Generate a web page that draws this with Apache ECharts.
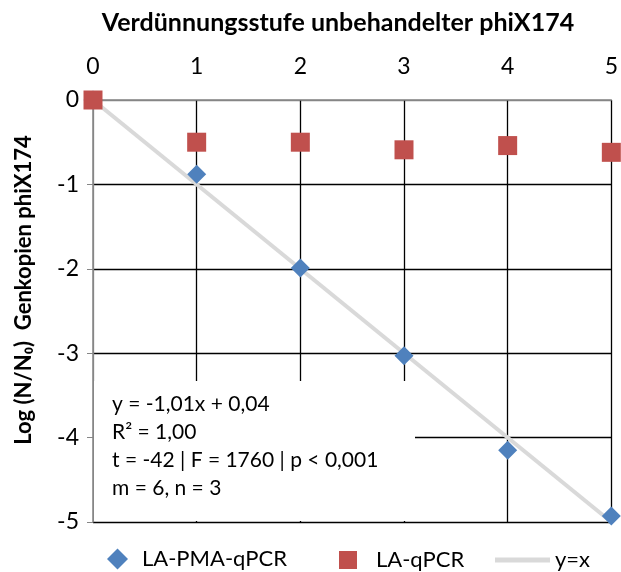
<!DOCTYPE html>
<html><head><meta charset="utf-8">
<script src="https://cdn.jsdelivr.net/npm/echarts@6/dist/echarts.min.js"></script>
<style>html,body{margin:0;padding:0;background:#fff}#c{width:621px;height:572px}</style>
</head><body><div id="c"></div>
<script>
const stufen = [0, 1, 2, 3, 4, 5];
const pmaQpcr = [0, -0.88, -1.99, -3.03, -4.15, -4.93];
const laQpcr = [0, -0.50, -0.50, -0.59, -0.54, -0.62];
const refX = [0, 5];
const refY = [0, -5];
const xTicks = ['0','1','2','3','4','5'];
const yTicks = ['-5','-4','-3','-2','-1','0'];
const statsLines = ['y = -1,01x + 0,04', 'R² = 1,00', 't = -42 | F = 1760 | p < 0,001', 'm = 6, n = 3'];

const FONT = 'Lato, "Open Sans", sans-serif';
const chart = echarts.init(document.getElementById('c'), null, {renderer: 'canvas'});
const zip = (xs, ys) => xs.map((x, i) => [x, ys[i]]);

chart.setOption({
  animation: false,
  backgroundColor: '#fff',
  textStyle: {fontFamily: FONT},
  grid: {left: 93, right: 9, top: 100, bottom: 50},
  title: {
    text: 'Verdünnungsstufe unbehandelter phiX174',
    left: 333, top: 5, textAlign: 'center',
    textStyle: {fontFamily: FONT, fontSize: 25, fontWeight: 'bold', color: '#000'}
  },
  xAxis: {
    type: 'value', position: 'top', min: 0, max: 5, interval: 1,
    axisLine: {show: true, lineStyle: {color: '#868686', width: 1.5}},
    axisTick: {show: false},
    axisLabel: {fontSize: 23, color: '#000', margin: 22, fontFamily: FONT,
      formatter: v => xTicks[Math.round(v)]},
    splitLine: {show: true, lineStyle: {color: ['#868686','#000','#000','#000','#000','#000'], width: 1.3}}
  },
  yAxis: {
    type: 'value', min: -5, max: 0, interval: 1,
    name: 'Log (N/N₀)  Genkopien phiX174',
    nameLocation: 'middle', nameGap: 58, nameRotate: 90,
    nameTextStyle: {fontFamily: FONT, fontSize: 22, fontWeight: 'bold', color: '#000', padding: [0, 0, 0, 42]},
    axisLine: {show: true, lineStyle: {color: '#868686', width: 1.5}},
    axisTick: {show: true, length: 6, lineStyle: {color: '#868686'}},
    axisLabel: {fontSize: 23, color: '#000', margin: 14, fontFamily: FONT,
      formatter: v => yTicks[Math.round(v + 5)]},
    splitLine: {show: true, lineStyle: {color: ['#000','#000','#000','#000','#000','#868686'], width: 1.3}}
  },
  legend: [
    {data: [{name: 'LA-PMA-qPCR', icon: 'diamond'}], left: 107, top: 548, itemWidth: 21, itemHeight: 21, padding: 0,
      textStyle: {fontFamily: FONT, fontSize: 22, color: '#000', padding: [0,0,0,9]}},
    {data: [{name: 'LA-qPCR', icon: 'rect'}], left: 339, top: 549, itemWidth: 18, itemHeight: 18, padding: 0,
      textStyle: {fontFamily: FONT, fontSize: 22, color: '#000', padding: [0,0,0,14]}},
    {data: [{name: 'y=x', icon: 'rect'}], left: 495, top: 549, itemWidth: 55, itemHeight: 5, padding: 0,
      textStyle: {fontFamily: FONT, fontSize: 22, color: '#000', padding: [0,0,0,0]}}
  ],
  graphic: [
    {type: 'rect', left: 94, top: 381, z: 5, shape: {width: 321, height: 140}, style: {fill: '#fff'}},
    ...statsLines.map((t, i) => ({type: 'text', left: 112, top: 394 + i * 28, z: 6,
      style: {text: t, font: '21px ' + FONT, fill: '#000'}}))
  ],
  series: [
    {name: 'y=x', type: 'line', data: zip(refX, refY), symbol: 'none', z: 10,
      lineStyle: {color: '#d9d9d9', width: 4}, itemStyle: {color: '#d9d9d9'}},
    {name: 'LA-PMA-qPCR', type: 'scatter', data: zip(stufen, pmaQpcr), symbol: 'diamond', symbolSize: 19, z: 11,
      itemStyle: {color: '#4f81bd', opacity: 1}},
    {name: 'LA-qPCR', type: 'scatter', data: zip(stufen, laQpcr), symbol: 'rect', symbolSize: 19, z: 12,
      itemStyle: {color: '#c0504d', opacity: 1}}
  ]
});
</script></body></html>
